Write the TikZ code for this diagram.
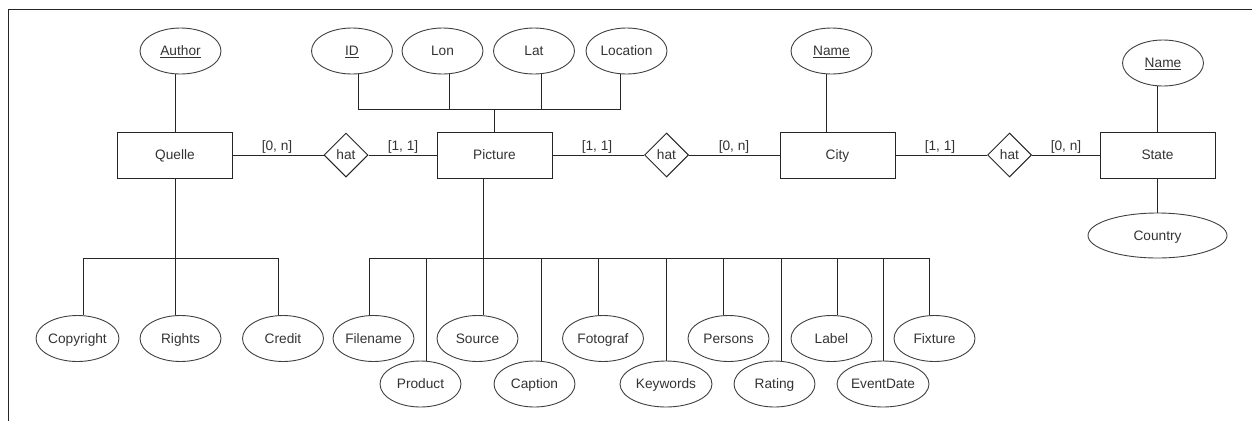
\documentclass[tikz,border=0pt]{standalone}
\usepackage{fontspec}
\setmainfont{Liberation Sans}
\usetikzlibrary{shapes.geometric}
\begin{document}
\begin{tikzpicture}[x=1pt,y=-1pt,
  every node/.style={font=\fontsize{13.7}{16}\selectfont, text=black!80, text height=10pt, text depth=0.4pt},
  line/.style={draw=black!85, line width=1pt},
  ent/.style={rectangle, draw=black!85, line width=1pt, minimum width=115pt, minimum height=46pt, inner sep=0pt},
  attr/.style={ellipse, draw=black!75, line width=0.9pt, minimum width=81pt, minimum height=46pt, inner sep=0pt},
  wattr/.style={attr, minimum width=92pt},
  rel/.style={diamond, draw=black!85, line width=1pt, minimum width=44pt, minimum height=44pt, inner sep=0pt},
  card/.style={inner sep=0pt}
]
\useasboundingbox (0,0) rectangle (1253,421);
% frame
\coordinate (fTL) at (8.5,9);
\coordinate (fTR) at (1252,9);
\coordinate (fBL) at (8.5,421);
\draw[line] (fBL) -- (fTL) -- (fTR);

% entities and relations
\node[ent] (quelle) at (175,155) {Quelle};
\node[ent] (picture) at (494.5,155) {Picture};
\node[ent] (city) at (837.5,155) {City};
\node[ent] (state) at (1157.5,155) {State};
\node[rel] (h1) at (346,155) {hat};
\node[rel] (h2) at (666.5,155) {hat};
\node[rel] (h3) at (1009.5,155) {hat};

% cardinalities
\node[card] (c1) at (277,146) {[0, n]};
\node[card] (c2) at (403,146) {[1, 1]};
\node[card] (c3) at (597,146) {[1, 1]};
\node[card] (c4) at (734,146) {[0, n]};
\node[card] (c5) at (940,146) {[1, 1]};
\node[card] (c6) at (1066,146) {[0, n]};

% top attributes
\node[attr] (author) at (180.5,51) {\underline{Author}};
\node[attr] (id) at (352,51) {\underline{ID}};
\node[attr] (lon) at (442.5,51) {Lon};
\node[attr] (lat) at (534,51) {Lat};
\node[attr] (location) at (626.5,51) {Location};
\node[attr] (cname) at (831.5,51) {\underline{Name}};
\node[attr] (sname) at (1163,63) {\underline{Name}};
\node[attr, minimum width=139pt, minimum height=45pt] (country) at (1157.5,235.5) {Country};

% bottom attributes row 1
\begin{scope}[every node/.append style={minimum height=45pt}]
\node[attr] (copyright) at (77.5,338.5) {Copyright};
\node[attr] (rights) at (180.5,338.5) {Rights};
\node[attr] (credit) at (283,338.5) {Credit};
\node[attr] (filename) at (373.5,338.5) {Filename};
\node[attr] (source) at (477.5,338.5) {Source};
\node[attr] (fotograf) at (603,338.5) {Fotograf};
\node[attr] (persons) at (728.5,338.5) {Persons};
\node[attr] (label) at (831.5,338.5) {Label};
\node[attr] (fixture) at (934.5,338.5) {Fixture};
% row 2
\node[attr] (product) at (420.5,384) {Product};
\node[attr] (caption) at (534.5,384) {Caption};
\node[wattr] (keywords) at (666,384) {Keywords};
\node[attr] (rating) at (774.5,384) {Rating};
\node[wattr] (eventdate) at (883,384) {EventDate};
\end{scope}

% relationship lines
\draw[line] (quelle) -- (h1) -- (picture) -- (h2) -- (city) -- (h3) -- (state);

% top attribute lines
\draw[line] (quelle.north) -- (quelle.north |- author.south);
\coordinate (busT) at (494.5,109);
\draw[line] (picture.north) -- (busT);
\draw[line] ([xshift=6pt]id.south) |- (busT);
\draw[line] ([xshift=6.5pt]lon.south) |- (busT);
\draw[line] ([xshift=7pt]lat.south) |- (busT);
\draw[line] ([xshift=-6.5pt]location.south) |- (busT);
\draw[line] ([xshift=-11.5pt]city.north) -- ([xshift=-11.5pt]city.north |- cname.south);
\draw[line] (state.north) -- (state.north |- sname.south);
\draw[line] (state.south) -- (state.south |- country.north);

% Quelle bottom bus
\coordinate (busQ) at (175,258);
\draw[line] (quelle.south) -- (busQ);
\draw[line] ([xshift=5.5pt]copyright.north) |- (busQ);
\draw[line] ([xshift=-5.5pt]rights.north) -- (busQ);
\draw[line] ([xshift=-5pt]credit.north) |- (busQ);

% Picture bottom bus
\coordinate (busP) at (483,258);
\draw[line] ([xshift=-11.5pt]picture.south) -- (busP);
\draw[line] ([xshift=-4.5pt]filename.north) |- (busP);
\draw[line] ([xshift=5.5pt]product.north) |- (busP);
\draw[line] ([xshift=5.5pt]source.north) |- (busP);
\draw[line] ([xshift=6.5pt]caption.north) |- (busP);
\draw[line] ([xshift=-5pt]fotograf.north) |- (busP);
\draw[line] (keywords.north) |- (busP);
\draw[line] ([xshift=-5.5pt]persons.north) |- (busP);
\draw[line] ([xshift=6.5pt]rating.north) |- (busP);
\draw[line] ([xshift=5.5pt]label.north) |- (busP);
\draw[line] (eventdate.north) |- (busP);
\draw[line] ([xshift=-5.5pt]fixture.north) |- (busP);
\end{tikzpicture}
\end{document}
